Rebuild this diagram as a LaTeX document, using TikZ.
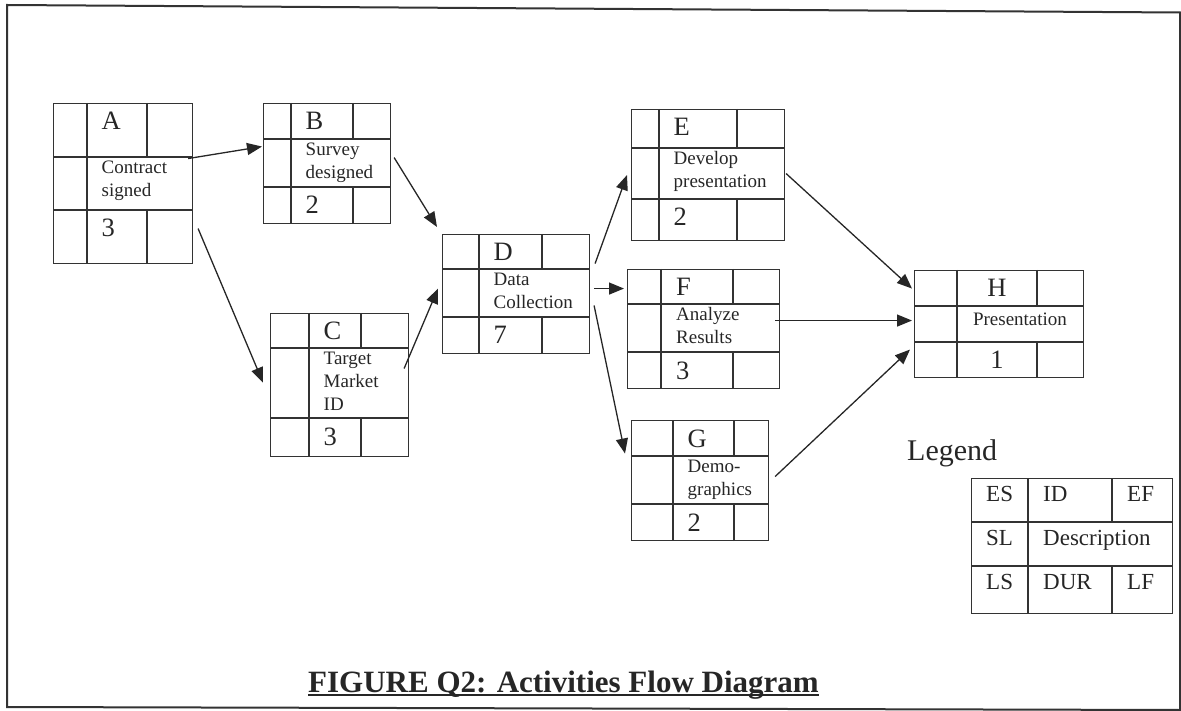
\documentclass[tikz,border=0pt]{standalone}
\usepackage{fontspec}
\setmainfont{Liberation Serif}
\usetikzlibrary{arrows.meta}

\begin{document}
\begin{tikzpicture}
		[
		x=1pt, y=-1pt,
		every node/.style={text=black!85},
		actbox/.style={draw=black!80, line width=1.1pt, rectangle, inner sep=0pt, anchor=north west},
		cell/.style={draw=black!80, line width=1.1pt},
		idtext/.style={font=\fontsize{26.5}{30}\selectfont, inner sep=0pt, anchor=base west},
		desctext/.style={font=\fontsize{19}{23}\selectfont, align=left, inner sep=0pt, anchor=north west, execute at begin node=\strut},
		legtext/.style={font=\fontsize{23}{27}\selectfont, inner sep=0pt, anchor=base west},
		flow/.style={draw=black!85, line width=1.3pt, -{Triangle[length=15pt,width=12pt]}}
		]
		\useasboundingbox (0,0) rectangle (1181,711);
		% page frame
		\draw[black!80, line width=2pt] (7,5) -- (1180,12.5) -- (1180,710) -- (7,707) -- cycle;
		
		% A
		\node[actbox, minimum width=139pt, minimum height=160pt] (A) at (53,103) {};
		\draw[cell] ([xshift=34pt]A.north west) -- ++(0,160)
			([xshift=94pt]A.north west) -- ++(0,54)
			([xshift=94pt]A.south west) -- ++(0,-53)
			([yshift=-54pt]A.north west) -- ++(139,0)
			([yshift=-107pt]A.north west) -- ++(139,0);
		\node[idtext] (A-id) at ([xshift=48.5pt,yshift=-27pt]A.north west) {A};
		\node[desctext] (A-desc) at ([xshift=48.5pt,yshift=-57.4pt]A.north west) {Contract\\signed};
		\node[idtext] (A-dur) at ([xshift=48.5pt,yshift=-134pt]A.north west) {3};
		
		% B
		\node[actbox, minimum width=127pt, minimum height=120pt] (B) at (263,103) {};
		\draw[cell] ([xshift=28pt]B.north west) -- ++(0,120)
			([xshift=90pt]B.north west) -- ++(0,36)
			([xshift=90pt]B.south west) -- ++(0,-36)
			([yshift=-36pt]B.north west) -- ++(127,0)
			([yshift=-84pt]B.north west) -- ++(127,0);
		\node[idtext] (B-id) at ([xshift=42.5pt,yshift=-27pt]B.north west) {B};
		\node[desctext] (B-desc) at ([xshift=42.5pt,yshift=-39.4pt]B.north west) {Survey\\designed};
		\node[idtext] (B-dur) at ([xshift=42.5pt,yshift=-111pt]B.north west) {2};
		
		% C
		\node[actbox, minimum width=138pt, minimum height=143pt] (C) at (270,313) {};
		\draw[cell] ([xshift=39pt]C.north west) -- ++(0,143)
			([xshift=91pt]C.north west) -- ++(0,35)
			([xshift=91pt]C.south west) -- ++(0,-38)
			([yshift=-35pt]C.north west) -- ++(138,0)
			([yshift=-105pt]C.north west) -- ++(138,0);
		\node[idtext] (C-id) at ([xshift=53.5pt,yshift=-27pt]C.north west) {C};
		\node[desctext] (C-desc) at ([xshift=53.5pt,yshift=-38.4pt]C.north west) {Target\\Market\\ID};
		\node[idtext] (C-dur) at ([xshift=53.5pt,yshift=-132pt]C.north west) {3};
		
		% D
		\node[actbox, minimum width=147pt, minimum height=119pt] (D) at (442,234) {};
		\draw[cell] ([xshift=37pt]D.north west) -- ++(0,119)
			([xshift=100pt]D.north west) -- ++(0,35)
			([xshift=100pt]D.south west) -- ++(0,-36)
			([yshift=-35pt]D.north west) -- ++(147,0)
			([yshift=-83pt]D.north west) -- ++(147,0);
		\node[idtext] (D-id) at ([xshift=51.5pt,yshift=-27pt]D.north west) {D};
		\node[desctext] (D-desc) at ([xshift=51.5pt,yshift=-38.4pt]D.north west) {Data\\Collection};
		\node[idtext] (D-dur) at ([xshift=51.5pt,yshift=-110pt]D.north west) {7};
		
		% E
		\node[actbox, minimum width=153pt, minimum height=131pt] (E) at (631,109) {};
		\draw[cell] ([xshift=28pt]E.north west) -- ++(0,131)
			([xshift=106pt]E.north west) -- ++(0,39)
			([xshift=106pt]E.south west) -- ++(0,-41)
			([yshift=-39pt]E.north west) -- ++(153,0)
			([yshift=-90pt]E.north west) -- ++(153,0);
		\node[idtext] (E-id) at ([xshift=42.5pt,yshift=-27pt]E.north west) {E};
		\node[desctext] (E-desc) at ([xshift=42.5pt,yshift=-42.4pt]E.north west) {Develop\\presentation};
		\node[idtext] (E-dur) at ([xshift=42.5pt,yshift=-117pt]E.north west) {2};
		
		% F
		\node[actbox, minimum width=152pt, minimum height=119pt] (F) at (627,269) {};
		\draw[cell] ([xshift=34pt]F.north west) -- ++(0,119)
			([xshift=106pt]F.north west) -- ++(0,35)
			([xshift=106pt]F.south west) -- ++(0,-36)
			([yshift=-35pt]F.north west) -- ++(152,0)
			([yshift=-83pt]F.north west) -- ++(152,0);
		\node[idtext] (F-id) at ([xshift=49pt,yshift=-27pt]F.north west) {F};
		\node[desctext] (F-desc) at ([xshift=49pt,yshift=-38.4pt]F.north west) {Analyze\\Results};
		\node[idtext] (F-dur) at ([xshift=49pt,yshift=-110pt]F.north west) {3};
		
		% G
		\node[actbox, minimum width=137pt, minimum height=120pt] (G) at (631,420) {};
		\draw[cell] ([xshift=42pt]G.north west) -- ++(0,120)
			([xshift=103pt]G.north west) -- ++(0,36)
			([xshift=103pt]G.south west) -- ++(0,-36)
			([yshift=-36pt]G.north west) -- ++(137,0)
			([yshift=-84pt]G.north west) -- ++(137,0);
		\node[idtext] (G-id) at ([xshift=56.5pt,yshift=-27pt]G.north west) {G};
		\node[desctext] (G-desc) at ([xshift=56.5pt,yshift=-39.4pt]G.north west) {Demo-\\graphics};
		\node[idtext] (G-dur) at ([xshift=56.5pt,yshift=-111pt]G.north west) {2};
		
		% H
		\node[actbox, minimum width=169pt, minimum height=107pt] (H) at (914,270) {};
		\draw[cell] ([xshift=43pt]H.north west) -- ++(0,107)
			([xshift=123pt]H.north west) -- ++(0,36)
			([xshift=123pt]H.south west) -- ++(0,-35)
			([yshift=-36pt]H.north west) -- ++(169,0)
			([yshift=-72pt]H.north west) -- ++(169,0);
		\node[idtext, anchor=base] (H-id) at ([xshift=83pt,yshift=-27pt]H.north west) {H};
		\node[desctext, anchor=north, align=center] (H-desc) at ([xshift=106pt,yshift=-39.4pt]H.north west) {Presentation};
		\node[idtext, anchor=base] (H-dur) at ([xshift=83pt,yshift=-99pt]H.north west) {1};
		
		% precedence arrows
		\draw[flow] ([xshift=-5pt,yshift=25pt]A.east) -- ([xshift=-1pt,yshift=17pt]B.west);
		\draw[flow] ([xshift=5pt,yshift=-45pt]A.east) -- ([xshift=-7pt,yshift=2.5pt]C.west);
		\draw[flow] ([xshift=3pt,yshift=6pt]B.east) -- ([xshift=-5pt,yshift=7pt]D.north west);
		\draw[flow] ([xshift=-5pt,yshift=16.5pt]C.east) -- ([xshift=-4pt,yshift=5.5pt]D.west);
		\draw[flow] ([xshift=5pt,yshift=30.5pt]D.east) -- ([xshift=-4pt]E.west);
		\draw[flow] ([xshift=4pt,yshift=5.5pt]D.east) -- ([xshift=-3pt,yshift=40.5pt]F.west);
		\draw[flow] ([xshift=4pt,yshift=-11.5pt]D.east) -- ([xshift=-6pt,yshift=27pt]G.west);
		\draw[flow] ([xshift=1pt,yshift=1.5pt]E.east) -- ([xshift=-2pt,yshift=35.5pt]H.west);
		\draw[flow] ([xshift=-5pt,yshift=8.5pt]F.east) -- ([xshift=-2pt,yshift=3.5pt]H.west);
		\draw[flow] ([xshift=6pt,yshift=4pt]G.east) -- ([xshift=-4pt,yshift=-25.5pt]H.west);
		
		% legend
		\node[font=\fontsize{30}{34}\selectfont, inner sep=0pt, anchor=base west] (legend-title) at (907,460) {Legend};
		\node[actbox, minimum width=201pt, minimum height=135pt] (legend) at (971,478) {};
		\draw[cell] ([xshift=57pt]legend.north west) -- ++(0,135)
			([xshift=141pt]legend.north west) -- ++(0,44)
			([xshift=141pt]legend.south west) -- ++(0,-47)
			([yshift=-44pt]legend.north west) -- ++(201,0)
			([yshift=-88pt]legend.north west) -- ++(201,0);
		\node[legtext] (legend-es) at ([xshift=15pt,yshift=-23pt]legend.north west) {ES};
		\node[legtext] (legend-id) at ([xshift=72pt,yshift=-23pt]legend.north west) {ID};
		\node[legtext] (legend-ef) at ([xshift=156pt,yshift=-23pt]legend.north west) {EF};
		\node[legtext] (legend-sl) at ([xshift=15pt,yshift=-67pt]legend.north west) {SL};
		\node[legtext] (legend-desc) at ([xshift=72pt,yshift=-67pt]legend.north west) {Description};
		\node[legtext] (legend-ls) at ([xshift=15pt,yshift=-111pt]legend.north west) {LS};
		\node[legtext] (legend-dur) at ([xshift=72pt,yshift=-111pt]legend.north west) {DUR};
		\node[legtext] (legend-lf) at ([xshift=156pt,yshift=-111pt]legend.north west) {LF};
		
		% caption
		\node[font=\bfseries\fontsize{31}{35}\selectfont, inner sep=0pt, anchor=base west] (title) at (308,692) {FIGURE Q2: Activities Flow Diagram};
		\draw[black!85, line width=1.5pt] ([yshift=-3pt]title.base west) -- ([yshift=-3pt]title.base east);
\end{tikzpicture}
\end{document}
